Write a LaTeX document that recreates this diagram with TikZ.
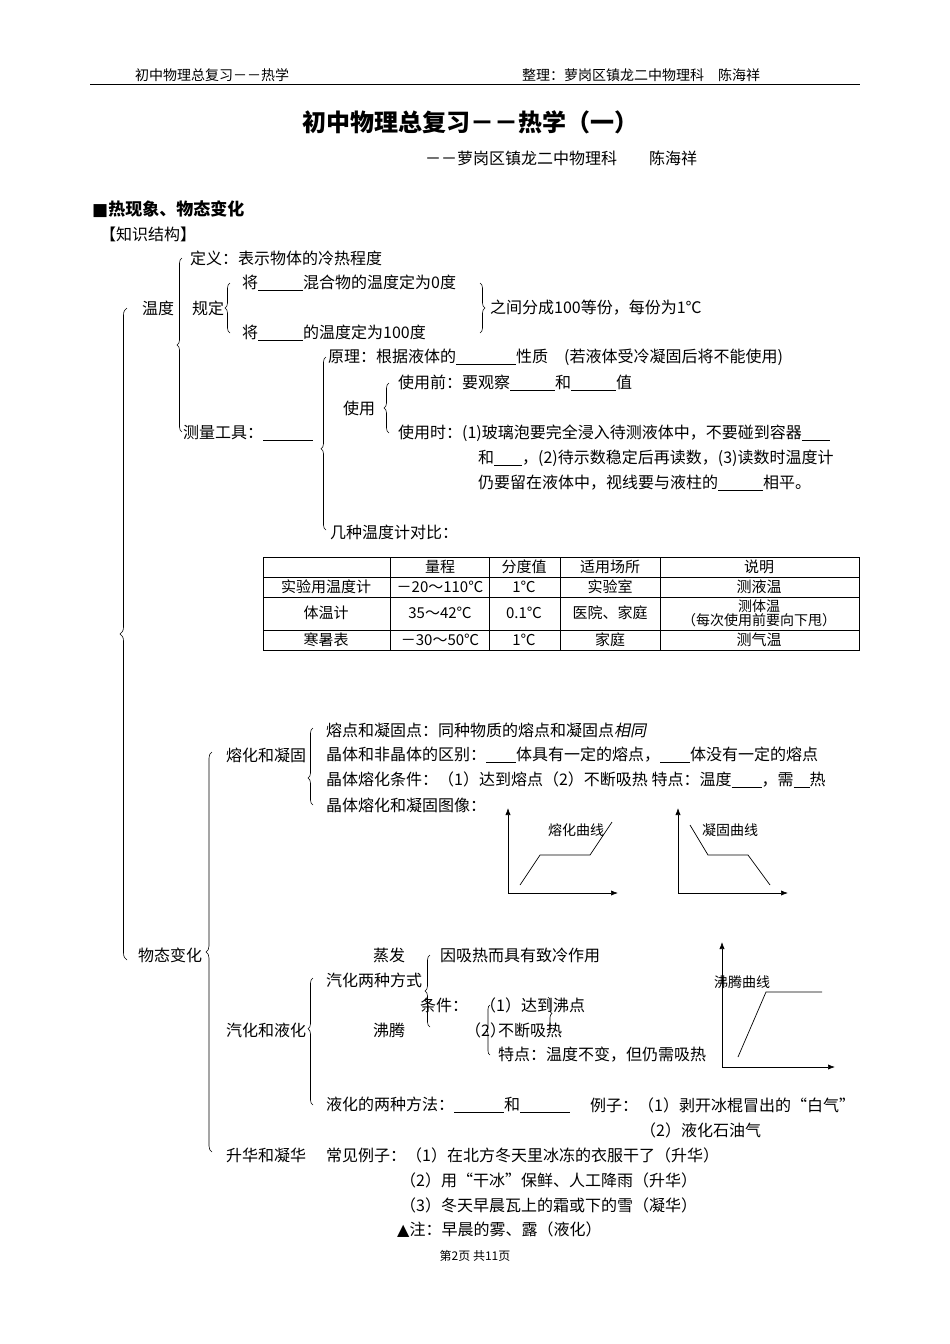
\documentclass[tikz,border=0pt]{standalone}
\usepackage{fontspec}
\setmainfont{Noto Sans CJK SC}
\newfontfamily\dv{DejaVu Sans}
\usetikzlibrary{decorations.pathreplacing,arrows.meta}
\newcommand{\bl}[1]{\rule[-2pt]{#1pt}{0.5pt}}
\tikzset{t/.style={anchor=west,inner sep=0pt,font=\fontsize{16}{18}\selectfont},
 br/.style={decorate,decoration={brace,amplitude=5pt},line width=0.6pt},
 ax/.style={-{Latex[length=7pt]},line width=0.7pt},
 cu/.style={line width=0.7pt},
 tc/.style={inner sep=0pt,font=\fontsize{15}{16}\selectfont}}
\begin{document}
\begin{tikzpicture}[x=1pt,y=-1pt]
\useasboundingbox (0,0) rectangle (950,1344);
\fill[white] (0,0) rectangle (950,1344);
% header
\node[t,font=\fontsize{14}{16}\selectfont] (h1) at (135,75) {初中物理总复习－－热学};
\node[t,font=\fontsize{14}{16}\selectfont] (h2) at (522,75) {整理：萝岗区镇龙二中物理科\quad 陈海祥};
\draw[line width=0.8pt] (90,84) -- (860,84);
\node[tc,font=\fontsize{24}{26}\selectfont\bfseries] (title) at (470,122) {初中物理总复习－－热学（一）};
\node[t] (sub) at (425,158) {－－萝岗区镇龙二中物理科\qquad 陈海祥};
\node[t,font=\fontsize{17}{19}\selectfont\bfseries] (sec) at (92,209) {{\dv ■}热现象、物态变化};
\node[t] (kj) at (100,234) {【知识结构】};
% main brace
\draw[br,decoration={amplitude=7pt,aspect=0.5}] (127,960) -- (127,308);
\node[t] (wd) at (142,308) {温度};
\draw[br,decoration={aspect=0.5}] (182,432) -- (182,258);
\node[t] (dy) at (190,258) {定义：表示物体的冷热程度};
\node[t] (gd) at (192,308) {规定};
\draw[br] (230,333) -- (230,283);
\node[t] (j1) at (242,283) {将\bl{45}混合物的温度定为0度};
\node[t] (j2) at (242,333) {将\bl{45}的温度定为100度};
\draw[br] (480,283) -- (480,333);
\node[t] (zj) at (490,308) {之间分成100等份，每份为1℃};
\node[t] (cl) at (183,433) {测量工具：\bl{50}};
\draw[br,decoration={aspect=0.47}] (326,530) -- (326,357);
\node[t] (yl) at (328,357) {原理：根据液体的\bl{60}性质\quad (若液体受冷凝固后将不能使用)};
\node[t] (sy) at (343,408) {使用};
\draw[br] (389,433) -- (389,383);
\node[t] (syq) at (398,383) {使用前：要观察\bl{45}和\bl{45}值};
\node[t] (sys) at (398,433) {使用时：(1)玻璃泡要完全浸入待测液体中，不要碰到容器\bl{28}};
\node[t] (sys2) at (478,458) {和\bl{28}，(2)待示数稳定后再读数，(3)读数时温度计};
\node[t] (sys3) at (478,483) {仍要留在液体中，视线要与液柱的\bl{45}相平。};
\node[t] (jz) at (330,532) {几种温度计对比：};
% table
\draw[line width=0.6pt] (263,557) rectangle (859,650);
\foreach \y in {577,597,630} \draw[line width=0.6pt] (263,\y) -- (859,\y);
\foreach \x in {390,489,560,660} \draw[line width=0.6pt] (\x,557) -- (\x,650);
\node[tc] (c01) at (440,567) {量程};
\node[tc] (c02) at (524,567) {分度值};
\node[tc] (c03) at (610,567) {适用场所};
\node[tc] (c04) at (759,567) {说明};
\node[tc] (c10) at (326,587) {实验用温度计};
\node[tc] (c11) at (440,587) {－20～110℃};
\node[tc] (c12) at (524,587) {1℃};
\node[tc] (c13) at (610,587) {实验室};
\node[tc] (c14) at (759,587) {测液温};
\node[tc] (c20) at (326,613) {体温计};
\node[tc] (c21) at (440,613) {35～42℃};
\node[tc] (c22) at (524,613) {0.1℃};
\node[tc] (c23) at (610,613) {医院、家庭};
\node[tc,align=center,font=\fontsize{14}{14}\selectfont] (c24) at (759,613) {测体温\\（每次使用前要向下甩）};
\node[tc] (c30) at (326,640) {寒暑表};
\node[tc] (c31) at (440,640) {－30～50℃};
\node[tc] (c32) at (524,640) {1℃};
\node[tc] (c33) at (610,640) {家庭};
\node[tc] (c34) at (759,640) {测气温};
% phase change
\node[t] (wt) at (138,955) {物态变化};
\draw[br,decoration={amplitude=6pt,aspect=0.5}] (212,1152) -- (212,752);
\node[t] (rh) at (226,755) {熔化和凝固};
\draw[br,decoration={aspect=0.35}] (313,805) -- (313,728);
\node[t] (r1) at (326,730) {熔点和凝固点：同种物质的熔点和凝固点{\addfontfeature{FakeSlant=0.2}相同}};
\node[t] (r2) at (326,755) {晶体和非晶体的区别：\bl{30}体具有一定的熔点，\bl{30}体没有一定的熔点};
\node[t] (r3) at (326,780) {晶体熔化条件：（1）达到熔点（2）不断吸热\ 特点：温度\bl{30}，需\bl{16}热};
\node[t] (r4) at (326,805) {晶体熔化和凝固图像：};
% graph 1
\coordinate (o1) at (508,893);
\draw[ax] (o1) -- (508,808);
\draw[ax] (o1) -- (618,893);
\draw[cu] (520,885) -- (540,855) -- (590,855) -- (612,822);
\node[tc,font=\fontsize{14}{16}\selectfont] (g1) at (576,830) {熔化曲线};
% graph 2
\coordinate (o2) at (678,893);
\draw[ax] (o2) -- (678,808);
\draw[ax] (o2) -- (788,893);
\draw[cu] (690,825) -- (708,855) -- (748,855) -- (770,885);
\node[tc,font=\fontsize{14}{16}\selectfont] (g2) at (730,830) {凝固曲线};
% graph 3
\coordinate (o3) at (722,1067);
\draw[ax] (o3) -- (722,942);
\draw[ax] (o3) -- (835,1067);
\draw[cu] (738,1057) -- (766,992) -- (822,992);
\node[tc,font=\fontsize{14}{16}\selectfont] (g3) at (742,982) {沸腾曲线};
% vaporization
\node[t] (qh) at (226,1030) {汽化和液化};
\draw[br,decoration={aspect=0.6}] (313,1105) -- (313,978);
\node[t] (zf) at (373,955) {蒸发};
\node[t] (qf) at (326,980) {汽化两种方式};
\draw[br] (430,1027) -- (430,955);
\node[t] (yx) at (440,955) {因吸热而具有致冷作用};
\node[t] (ft) at (373,1030) {沸腾};
\node[t] (tj) at (420,1005) {条件：};
\node[t] (tj1) at (480,1005) {（1）达到沸点};
\node[t] (tj2) at (465,1030) {（2）};
\node[t] (tj3) at (498,1030) {不断吸热};
\draw[br,decoration={amplitude=4pt}] (490,1055) -- (490,1005);
\draw[br,decoration={amplitude=4pt}] (548,997) -- (548,1030);
\node[t] (td) at (498,1055) {特点：温度不变，但仍需吸热};
\node[t] (yh) at (326,1105) {液化的两种方法：\bl{50}和\bl{50}};
\node[t] (lz) at (590,1105) {例子：（1）剥开冰棍冒出的“白气”};
\node[t] (lz2) at (640,1130) {（2）液化石油气};
\node[t] (sh) at (226,1155) {升华和凝华};
\node[t] (s1) at (326,1155) {常见例子：（1）在北方冬天里冰冻的衣服干了（升华）};
\node[t] (s2) at (400,1180) {（2）用“干冰”保鲜、人工降雨（升华）};
\node[t] (s3) at (400,1205) {（3）冬天早晨瓦上的霜或下的雪（凝华）};
\node[t] (s4) at (397,1230) {{\dv ▲}注：早晨的雾、露（液化）};
\node[tc,font=\fontsize{12}{13}\selectfont] (ft2) at (475,1256) {第2页 共11页};
\end{tikzpicture}
\end{document}
